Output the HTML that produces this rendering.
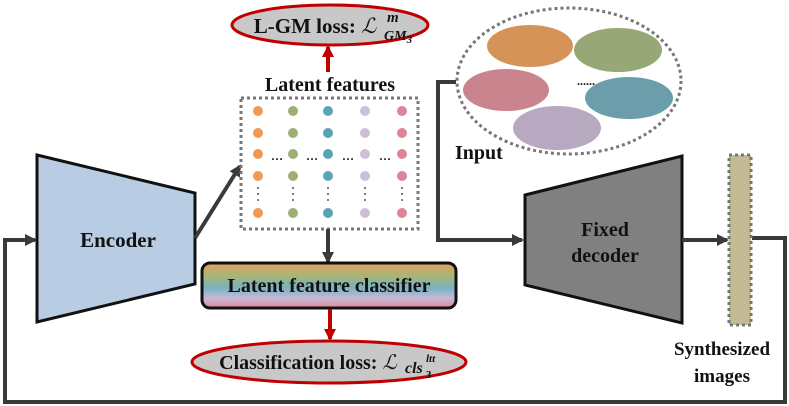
<!DOCTYPE html>
<html><head><meta charset="utf-8"><style>
html,body{margin:0;padding:0;background:#fff;width:789px;height:406px;overflow:hidden}
svg text{font-family:"Liberation Serif",serif;font-weight:bold;fill:#111}
</style></head><body>
<svg width="789" height="406" viewBox="0 0 789 406" xmlns="http://www.w3.org/2000/svg">
<defs>
<marker id="ahb" markerWidth="12" markerHeight="12" refX="10" refY="6" orient="auto" markerUnits="userSpaceOnUse"><path d="M0,0 L12,6 L0,12 z" fill="#3a3a3a"/></marker>
<marker id="ar" markerWidth="12" markerHeight="12" refX="10" refY="6" orient="auto" markerUnits="userSpaceOnUse"><path d="M0,0 L12,6 L0,12 z" fill="#c00000"/></marker>
<linearGradient id="rb" x1="0" y1="0" x2="0" y2="1">
<stop offset="0" stop-color="#e0a060"/><stop offset="0.3" stop-color="#a6b67a"/><stop offset="0.55" stop-color="#78b2c2"/><stop offset="0.78" stop-color="#c8b8d6"/><stop offset="1" stop-color="#e08a9a"/>
</linearGradient>
</defs>
<polyline points="752,238 785,238 785,402 5,402 5,240 35,240" fill="none" stroke="#3a3a3a" stroke-width="4" marker-end="url(#ahb)"/>
<polygon points="37,155 195,193 195,284 37,322" fill="#b8cce4" stroke="#111" stroke-width="3"/>
<text x="118" y="247" font-size="21" text-anchor="middle">Encoder</text>
<line x1="195" y1="238" x2="240" y2="166" stroke="#3a3a3a" stroke-width="4" marker-end="url(#ahb)"/>
<ellipse cx="330" cy="25" rx="98" ry="20" fill="#c8c8c8" stroke="#c00000" stroke-width="3"/>
<text x="315" y="33" font-size="21" text-anchor="middle">L-GM loss: <tspan font-style="italic" font-weight="normal">ℒ</tspan></text>
<text x="387" y="22" font-size="15" font-style="italic" font-weight="normal">m</text>
<text x="384" y="40" font-size="14" font-style="italic" font-weight="normal">GM<tspan font-size="11" dy="3">3</tspan></text>
<line x1="328" y1="72" x2="328" y2="47" stroke="#c00000" stroke-width="4" marker-end="url(#ar)"/>
<text x="330" y="91" font-size="20" text-anchor="middle">Latent features</text>
<rect x="241" y="98" width="177" height="131" fill="none" stroke="#777" stroke-width="3" stroke-dasharray="3,3"/>
<g>
<g fill="#ee9955"><circle cx="258" cy="111" r="5"/><circle cx="258" cy="133" r="5"/><circle cx="258" cy="154" r="5"/><circle cx="258" cy="176" r="5"/><circle cx="258" cy="213" r="5"/></g>
<g fill="#9bb072"><circle cx="293" cy="111" r="5"/><circle cx="293" cy="133" r="5"/><circle cx="293" cy="154" r="5"/><circle cx="293" cy="176" r="5"/><circle cx="293" cy="213" r="5"/></g>
<g fill="#5aa5b5"><circle cx="328" cy="111" r="5"/><circle cx="328" cy="133" r="5"/><circle cx="328" cy="154" r="5"/><circle cx="328" cy="176" r="5"/><circle cx="328" cy="213" r="5"/></g>
<g fill="#cdbfdc"><circle cx="365" cy="111" r="5"/><circle cx="365" cy="133" r="5"/><circle cx="365" cy="154" r="5"/><circle cx="365" cy="176" r="5"/><circle cx="365" cy="213" r="5"/></g>
<g fill="#df8496"><circle cx="402" cy="111" r="5"/><circle cx="402" cy="133" r="5"/><circle cx="402" cy="154" r="5"/><circle cx="402" cy="176" r="5"/><circle cx="402" cy="213" r="5"/></g>
<g font-size="12" font-weight="normal"><text x="271" y="160">…</text><text x="306" y="160">…</text><text x="342" y="160">…</text><text x="379" y="160">…</text></g>
<g fill="#555"><circle cx="258" cy="188" r="1"/><circle cx="258" cy="194" r="1"/><circle cx="258" cy="200" r="1"/><circle cx="293" cy="188" r="1"/><circle cx="293" cy="194" r="1"/><circle cx="293" cy="200" r="1"/><circle cx="328" cy="188" r="1"/><circle cx="328" cy="194" r="1"/><circle cx="328" cy="200" r="1"/><circle cx="365" cy="188" r="1"/><circle cx="365" cy="194" r="1"/><circle cx="365" cy="200" r="1"/><circle cx="402" cy="188" r="1"/><circle cx="402" cy="194" r="1"/><circle cx="402" cy="200" r="1"/></g>
</g>
<line x1="328" y1="229" x2="328" y2="262" stroke="#3a3a3a" stroke-width="4" marker-end="url(#ahb)"/>
<rect x="202" y="263" width="254" height="45" rx="8" fill="url(#rb)" stroke="#111" stroke-width="3"/>
<text x="329" y="292" font-size="20" text-anchor="middle">Latent feature classifier</text>
<line x1="330" y1="309" x2="330" y2="339" stroke="#c00000" stroke-width="4" marker-end="url(#ar)"/>
<ellipse cx="329" cy="362" rx="137" ry="21" fill="#c8c8c8" stroke="#c00000" stroke-width="3"/>
<text x="308" y="369" font-size="20" text-anchor="middle">Classification loss: <tspan font-style="italic" font-weight="normal">ℒ</tspan></text>
<text x="405" y="373" font-size="16" font-style="italic">cls</text>
<text x="426" y="362" font-size="11" font-style="italic">ltt</text>
<text x="426" y="378" font-size="11">3</text>
<ellipse cx="530" cy="46" rx="43" ry="21" fill="#d59358"/>
<ellipse cx="618" cy="50" rx="44" ry="22" fill="#97a776"/>
<ellipse cx="506" cy="90" rx="43" ry="21" fill="#c9848e"/>
<ellipse cx="629" cy="98" rx="44" ry="21" fill="#6b9eaa"/>
<ellipse cx="557" cy="128" rx="44" ry="22" fill="#b7a9c0"/>
<text x="577" y="85" font-size="12">......</text>
<ellipse cx="569" cy="81" rx="112" ry="73" fill="none" stroke="#777" stroke-width="3" stroke-dasharray="3,3"/>
<text x="455" y="159" font-size="20">Input</text>
<polyline points="456,82 438,82 438,240 522,240" fill="none" stroke="#3a3a3a" stroke-width="4" marker-end="url(#ahb)"/>
<polygon points="525,195 682,156 682,323 525,285" fill="#808080" stroke="#111" stroke-width="3"/>
<text x="605" y="236" font-size="20" text-anchor="middle">Fixed</text>
<text x="605" y="262" font-size="20" text-anchor="middle">decoder</text>
<line x1="682" y1="240" x2="727" y2="240" stroke="#3a3a3a" stroke-width="4" marker-end="url(#ahb)"/>
<rect x="729" y="155" width="22" height="170" fill="#c4bb94" stroke="#777" stroke-width="3" stroke-dasharray="3,3"/>
<text x="722" y="355" font-size="19" text-anchor="middle">Synthesized</text>
<text x="722" y="382" font-size="19" text-anchor="middle">images</text>
</svg>
</body></html>
